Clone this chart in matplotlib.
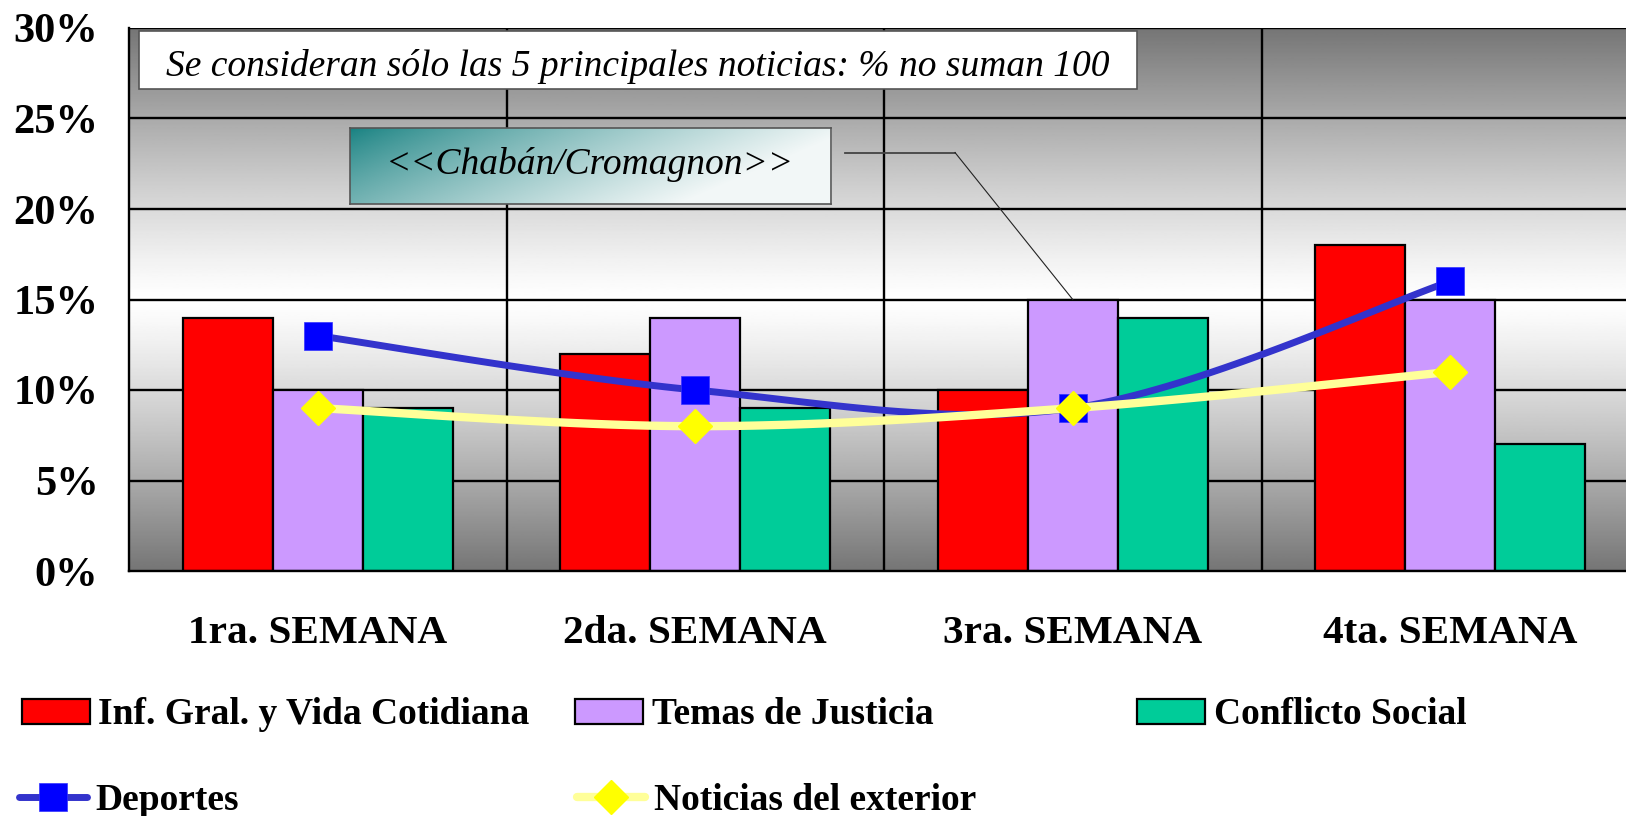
import numpy as np
import matplotlib.pyplot as plt
from matplotlib.patches import Rectangle
from matplotlib.lines import Line2D

# data (percent)
semanas = ["1ra. SEMANA", "2da. SEMANA", "3ra. SEMANA", "4ta. SEMANA"]
inf_gral = [14, 12, 10, 18]
justicia = [10, 14, 15, 15]
conflicto = [9, 9, 14, 7]
deportes = [13, 10, 9, 16]
exterior = [9, 8, 9, 11]
yticks = [0, 5, 10, 15, 20, 25, 30]

nota = "Se consideran sólo las 5 principales noticias: % no suman 100"
cartel = "<<Chabán/Cromagnon>>"

plt.rcParams['font.family'] = ['Liberation Serif', 'DejaVu Serif']

W, H = 1626, 816


def fx(px):
    return px / W


def fy(py):
    return 1 - py / H


def smooth(xs, ys, n=40):
    # excel-like smoothed line: cubic bezier through the points
    P = np.column_stack([xs, ys]).astype(float)
    out = []
    for i in range(len(P) - 1):
        p_prev = P[max(i - 1, 0)]
        p_next2 = P[min(i + 2, len(P) - 1)]
        c1 = P[i] + (P[i + 1] - p_prev) / 6
        c2 = P[i + 1] - (p_next2 - P[i]) / 6
        t = np.linspace(0, 1, n)[:, None]
        seg = (1 - t)**3 * P[i] + 3 * (1 - t)**2 * t * c1 + 3 * (1 - t) * t**2 * c2 + t**3 * P[i + 1]
        out.append(seg if i == 0 else seg[1:])
    out = np.vstack(out)
    return out[:, 0], out[:, 1]


fig = plt.figure(figsize=(W / 100, H / 100), dpi=100)
ax = fig.add_axes([fx(129), fy(571), (1639 - 129) / W, (571 - 28) / H])

x = np.arange(len(semanas))
ax.set_xlim(-0.5, len(semanas) - 0.5)
ax.set_ylim(0, 30)

# grey background gradient, white in the middle
yy = np.linspace(0, 30, 400)
g = 1 - 0.54 * (np.abs(yy - 15) / 15)**1.2
ax.imshow(np.repeat(g[:, None], 2, axis=1), cmap='gray', vmin=0, vmax=1,
          extent=[-0.5, len(semanas) - 0.5, 0, 30], origin='lower', aspect='auto', zorder=0)

for v in yticks[1:]:
    ax.axhline(v, color='black', lw=1.7, zorder=1)
for b in x[:-1] + 0.5:
    ax.axvline(b, color='black', lw=1.7, zorder=1)

bw = 0.238
ax.bar(x - bw, inf_gral, bw, color='#FF0000', edgecolor='black', lw=1.6, zorder=2)
ax.bar(x, justicia, bw, color='#CC99FF', edgecolor='black', lw=1.6, zorder=2)
ax.bar(x + bw, conflicto, bw, color='#00CC99', edgecolor='black', lw=1.6, zorder=2)

sx, sy = smooth(x, deportes)
ax.plot(sx, sy, color='#3333CC', lw=5, solid_capstyle='round', zorder=3)
ax.plot(x, deportes, 's', ms=20, color='#0000FF', mec='#3333FF', mew=0.5, zorder=4)
sx, sy = smooth(x, exterior)
ax.plot(sx, sy, color='#FFFF99', lw=6, solid_capstyle='round', zorder=5)
ax.plot(x, exterior, 'D', ms=17, color='#FFFF00', mec='#FFFF00', zorder=6)

for s in ['top', 'right']:
    ax.spines[s].set_visible(False)
for s in ['left', 'bottom']:
    ax.spines[s].set_linewidth(1.7)

ax.set_yticks(yticks)
ax.set_yticklabels([f"{v}%" for v in yticks], fontsize=30.5, fontweight='bold')
ax.set_xticks(x)
ax.set_xticklabels(semanas, fontsize=29.7, fontweight='bold')
ax.tick_params(axis='y', length=0, pad=22)
ax.tick_params(axis='x', length=0, pad=32)

# note box
fig.patches.append(Rectangle((fx(139), fy(89)), (1137 - 139) / W, (89 - 31) / H,
                             transform=fig.transFigure, facecolor='white', edgecolor='#555555',
                             lw=1.2, zorder=10))
fig.text(fx(638), fy(66), nota, fontsize=27, style='italic', ha='center', va='center', zorder=11)

# teal gradient box
cax = fig.add_axes([fx(349.5), fy(204), (830.6 - 349.5) / W, (204 - 127.5) / H], zorder=12)
gx, gy = np.meshgrid(np.linspace(0, 1, 300), np.linspace(0, 1, 60))
t = np.clip(0.95 * gx + 0.35 * gy, 0, 1)**0.8
teal = np.array([0.08, 0.50, 0.50])
white = np.array([0.95, 0.97, 0.97])
img = (1 - t)[..., None] * teal + t[..., None] * white
cax.imshow(img, aspect='auto', extent=[0, 1, 0, 1])
cax.set_xticks([])
cax.set_yticks([])
for s in cax.spines.values():
    s.set_color('#555555')
    s.set_linewidth(1.2)
cax.text(0.5, 0.52, cartel, fontsize=27, style='italic', ha='center', va='center',
         transform=cax.transAxes)

# leader line to the third week's justice bar
lx0 = (845 - 129) / 377.5 - 0.5
lx1 = (955 - 129) / 377.5 - 0.5
ly = (571 - 152.5) / (543 / 30)
ax.plot([lx0, lx1], [ly, ly], color='#444444', lw=1.3, zorder=7, clip_on=False)
ax.plot([lx1, x[2]], [ly, justicia[2]], color='#222222', lw=0.8, zorder=7, clip_on=False)

# legend, one entry per slot like the original layout
entries = [
    (Rectangle((0, 0), 1, 1, facecolor='#FF0000', edgecolor='black', lw=1.6), "Inf. Gral. y Vida Cotidiana", 22, 715),
    (Rectangle((0, 0), 1, 1, facecolor='#CC99FF', edgecolor='black', lw=1.6), "Temas de Justicia", 575, 715),
    (Rectangle((0, 0), 1, 1, facecolor='#00CC99', edgecolor='black', lw=1.6), "Conflicto Social", 1137, 715),
    (Line2D([], [], color='#3333CC', lw=5, marker='s', ms=20, mfc='#0000FF', mec='#3333FF', mew=0.5,
            solid_capstyle='round'), "Deportes", 19, 800),
    (Line2D([], [], color='#FFFF99', lw=6, marker='D', ms=17, mfc='#FFFF00', mec='#FFFF00',
            solid_capstyle='round'), "Noticias del exterior", 577, 800),
]
for h, lab, px, py in entries:
    fig.legend([h], [lab], loc='center left', bbox_to_anchor=(fx(px), fy(py)), frameon=False,
               borderpad=0, borderaxespad=0, handlelength=1.8, handleheight=0.64,
               handletextpad=0.24, numpoints=1, prop={'size': 27, 'weight': 'bold'})

fig.savefig("out.png", dpi=100)
